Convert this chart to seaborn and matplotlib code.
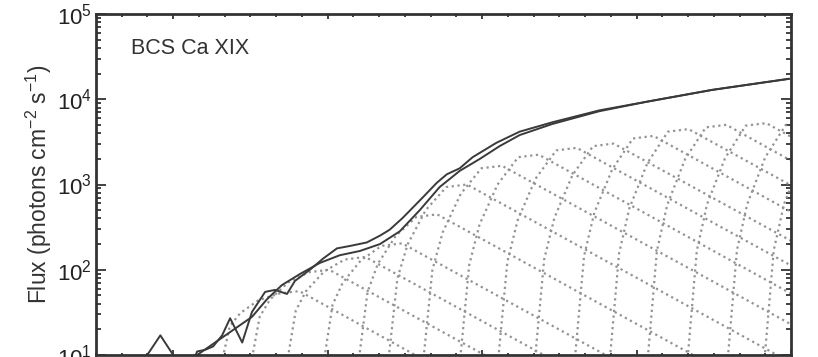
import matplotlib
matplotlib.use("Agg")
import matplotlib.pyplot as plt
import matplotlib.ticker as mticker
import numpy as np
import pandas as pd
import seaborn as sns

# observed BCS Ca XIX light curve (time in s, flux in photons cm-2 s-1)
obs_t = [49.9, 55.0, 60.0, 62.7, 66.6, 69.3, 72.4, 75.5, 79.0, 82.1, 86.8, 90.6, 95.7, 99.5,
         104.2, 107.3, 113.1, 118.2, 123.6, 128.6, 135.2, 140.3, 144.1, 149.2, 153.1, 157.0,
         162.4, 166.3, 171.3, 176.3, 185.6, 194.6, 207.3, 225.6, 243.8, 269.4, 299.3]
obs_f = [10, 17, 10, 7, 7, 11, 11.5, 12.6, 17, 27, 14, 32, 55, 58, 52, 74, 100, 135, 178, 190,
         209, 251, 295, 407, 537, 708, 1047, 1318, 1549, 2089, 3090, 4169, 5370, 7413, 9333,
         12880, 17380]

# summed multi-loop model
mod_t = [69.3, 79.0, 90.6, 96.4, 102.2, 109.2, 116.9, 124.7, 132.5, 140.3, 148.0, 155.8,
         163.5, 171.3, 179.1, 186.8, 194.6, 207.3, 225.6, 243.8, 269.4, 299.3]
mod_f = [10, 16, 28, 45, 66, 89, 120, 148, 166, 200, 282, 501, 933, 1445, 1995, 2818, 3802,
         5129, 7244, 9333, 12880, 17380]

# individual loop contributions: time (s) and log10 flux
loop_t = [
    [78.0, 82.0, 86.0, 93.0, 101.0, 109.0, 160.0],
    [89.6, 93.6, 97.6, 104.6, 112.6, 120.6, 187.0],
    [103.6, 107.6, 111.6, 118.6, 126.6, 134.6, 210.0],
    [117.9, 121.9, 125.9, 132.9, 140.9, 148.9, 234.0],
    [131.5, 135.5, 139.5, 146.5, 154.5, 162.5, 268.0],
    [143.1, 147.1, 151.1, 158.1, 166.1, 174.1, 300.0],
    [156.7, 160.7, 164.7, 171.7, 179.7, 187.7, 300.0],
    [171.0, 175.0, 179.0, 186.0, 194.0, 202.0, 300.0],
    [185.8, 189.8, 193.8, 200.8, 208.8, 216.8, 300.0],
    [200.1, 204.1, 208.1, 215.1, 223.1, 231.1, 300.0],
    [215.6, 219.6, 223.6, 230.6, 238.6, 246.6, 300.0],
    [229.2, 233.2, 237.2, 244.2, 252.2, 260.2, 300.0],
    [243.9, 247.9, 251.9, 258.9, 266.9, 274.9, 300.0],
    [259.4, 263.4, 267.4, 274.4, 282.4, 290.4, 300.0],
    [275.0, 279.0, 283.0, 290.0, 298.0, 300.0],
    [289.3, 293.3, 297.3, 300.0],
]
loop_logf = [
    [0.8, 1.34, 1.49, 1.64, 1.72, 1.75, 0.90],
    [0.8, 1.45, 1.65, 1.85, 1.97, 2.00, 0.90],
    [0.8, 1.52, 1.75, 1.98, 2.12, 2.15, 0.90],
    [0.8, 1.59, 1.85, 2.11, 2.28, 2.31, 0.90],
    [0.8, 1.74, 2.07, 2.40, 2.62, 2.65, 0.90],
    [0.8, 1.90, 2.30, 2.70, 2.97, 3.00, 0.91],
    [0.8, 2.00, 2.44, 2.89, 3.19, 3.22, 1.36],
    [0.8, 2.06, 2.53, 3.00, 3.32, 3.35, 1.72],
    [0.8, 2.09, 2.58, 3.07, 3.40, 3.43, 2.05],
    [0.8, 2.12, 2.61, 3.11, 3.45, 3.48, 2.34],
    [0.8, 2.16, 2.67, 3.18, 3.54, 3.57, 2.68],
    [0.8, 2.19, 2.72, 3.25, 3.62, 3.65, 2.99],
    [0.8, 2.22, 2.76, 3.30, 3.67, 3.70, 3.28],
    [0.8, 2.22, 2.77, 3.31, 3.69, 3.72, 3.56],
    [0.8, 2.23, 2.77, 3.32, 3.70, 3.71],
    [0.8, 2.23, 2.77, 2.98],
]

loops = pd.concat([pd.DataFrame({"t": t, "flux": 10 ** np.array(f), "loop": i})
                   for i, (t, f) in enumerate(zip(loop_t, loop_logf))])
curves = pd.concat([pd.DataFrame({"t": obs_t, "flux": obs_f, "kind": "obs"}),
                    pd.DataFrame({"t": mod_t, "flux": mod_f, "kind": "model"})])

sns.set_theme(style="ticks")
plt.rcParams["font.family"] = ["Liberation Sans", "DejaVu Sans"]
plt.rcParams["mathtext.default"] = "regular"

fig = plt.figure(figsize=(8.18, 3.57), dpi=100)
ax = fig.add_axes([96 / 818, 2 / 357, 695 / 818, 341 / 357])
ax.set_yscale("log")

sns.lineplot(data=loops, x="t", y="flux", units="loop", estimator=None, sort=False,
             color="#939393", linestyle=(0, (1, 1.6)), lw=1.6, ax=ax)
sns.lineplot(data=curves, x="t", y="flux", units="kind", estimator=None, sort=False,
             color="#3a3a3a", lw=1.4, ax=ax)

ax.set_xlim(30, 300)
ax.set_ylim(10, 1e5)
ax.xaxis.set_major_locator(mticker.MultipleLocator(60))
ax.xaxis.set_minor_locator(mticker.MultipleLocator(10))
ax.yaxis.set_major_locator(mticker.LogLocator(base=10, numticks=10))
ax.yaxis.set_minor_locator(mticker.LogLocator(base=10, subs=np.arange(2, 10), numticks=20))
ax.yaxis.set_minor_formatter(mticker.NullFormatter())
ax.tick_params(which="both", direction="in", top=True, right=True, labelbottom=False,
               colors="#222222", labelsize=16, width=1.2)
ax.tick_params(axis="y", which="major", length=7.5, pad=3)
ax.tick_params(axis="y", which="minor", length=3.5)
ax.tick_params(axis="x", which="major", length=3.5)
ax.tick_params(axis="x", which="minor", length=1.8)
for s in ax.spines.values():
    s.set_linewidth(2)
    s.set_color("#333333")

ax.set_xlabel("")
ax.set_ylabel("Flux (photons cm$^{-2}$ s$^{-1}$)", fontsize=16.5, color="#333333", labelpad=2)
ax.text(0.05, 0.9, "BCS Ca XIX", transform=ax.transAxes, fontsize=15.5, color="#333333",
        va="center", ha="left")

fig.savefig("out.png", dpi=100)
